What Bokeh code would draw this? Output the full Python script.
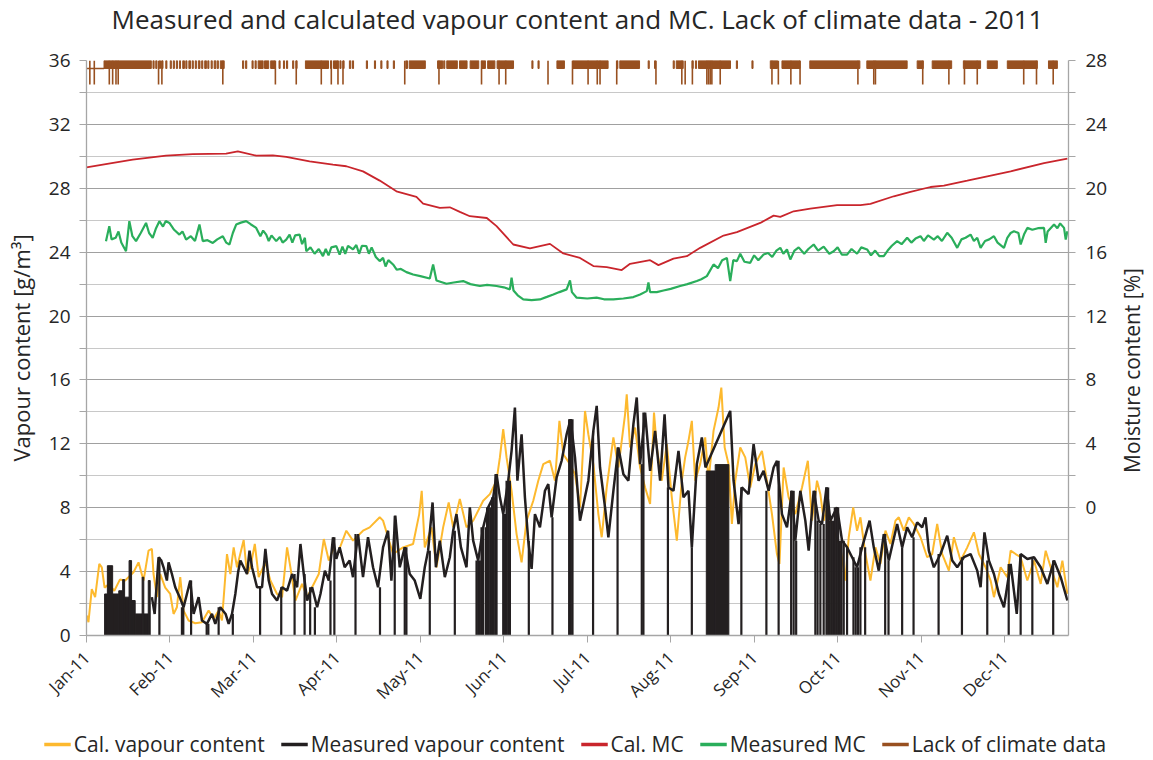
import numpy as np
from math import pi
from bokeh.plotting import figure
from bokeh.layouts import column, row
from bokeh.models import (Range1d, LinearAxis, FixedTicker, Legend, LegendItem, Label)
from bokeh.embed import file_html
from bokeh.resources import INLINE

# ---------------- data (x = days from 1 Jan 2011) ----------------
month_tick_days = [0, 30, 60, 90, 120, 150, 180, 210, 240, 270, 300, 330]
month_labels = ["Jan-11", "Feb-11", "Mar-11", "Apr-11", "May-11", "Jun-11",
                "Jul-11", "Aug-11", "Sep-11", "Oct-11", "Nov-11", "Dec-11"]

cal_vap_day = [0.1, 0.7, 1.9, 3.1, 4.6, 5.5, 6.5, 8, 10, 12, 13.9, 16.9, 18.7, 20.5, 22.3, 23.5, 24.1, 25.3, 26.5, 28.3,
               30.1, 31.3, 32.5, 33.7, 34.9, 36.7, 39.1, 41.5, 43.9, 45.7, 47.5, 48.7, 50.5, 51.7, 52.9, 54.1, 56.5, 57.7,
               58.9, 60.5, 61.9, 64.3, 66.1, 68.5, 70.3, 72.1, 73.3, 75.1, 77.5, 79.3, 81.1, 83.5, 85.3, 87.1, 88.9, 89.8,
               93.4, 95.8, 99.4, 101.8, 105.4, 106.6, 108.4, 110.2, 113.8, 117.4, 119.6, 120.5, 121.6, 124, 125.8, 128.2,
               130.2, 131.8, 134.2, 136.6, 139, 142.6, 145, 147.4, 148.6, 149.8, 151, 152.8, 154.6, 156.4, 158.2, 160.6,
               162.4, 164.2, 166.6, 168.4, 170, 171.4, 173.8, 175.6, 177.4, 179.2, 180.4, 182.2, 184, 185.2, 187, 189.4,
               191.2, 193.6, 194.2, 195.4, 197.2, 199, 200.8, 202.6, 204, 205, 206.8, 208.6, 210.4, 212.2, 214, 215.2,
               216.4, 217.6, 218.8, 220.6, 222.4, 223.6, 225.4, 227.2, 228.2, 229.4, 230.8, 232, 233.2, 235, 236.8, 238.6,
               240.4, 242.8, 244.6, 246.4, 248.2, 249.1, 250.6, 252.4, 254.8, 257.2, 259.3, 260.8, 262.6, 263.8, 265,
               266.2, 268.6, 271, 272.8, 274, 275.6, 277, 278.2, 280, 281.8, 283.6, 285.4, 287.2, 289, 290.8, 292, 293.8,
               295.6, 297.4, 299.8, 302.2, 304, 305.8, 307.6, 310, 311.8, 314.2, 316.6, 319, 320.8, 323.2, 325, 326.2,
               328.6, 331, 332.2, 334, 335.8, 338.2, 340.6, 343, 344.8, 346.6, 349, 350.8, 352.6]
cal_vap_val = [1.25, 0.83, 2.9, 2.4, 4.48, 4.27, 3.0, 3.2, 2.8, 3.5, 3.44, 3.96, 4.58, 3.44, 5.31, 5.42, 3.85, 2.4, 3.85, 3.0,
               2.6, 1.35, 1.77, 3.65, 1.56, 0.94, 0.77, 0.83, 1.56, 1.04, 1.56, 0.94, 5.1, 3.85, 5.52, 4.27, 5.98, 3.85,
               4.27, 5.73, 3.65, 4.58, 3.44, 2.6, 2.4, 5.52, 4.27, 2.19, 3.23, 2.4, 3.02, 3.85, 6.04, 4.69, 5.52, 4.9,
               6.56, 5.94, 6.56, 6.77, 7.4, 7.19, 6.15, 5.1, 5.52, 5.73, 7.6, 9.06, 5.52, 6.77, 4.27, 6.77,
               8.33, 6.77, 8.54, 6.77, 7.19, 8.44, 8.85, 9.69, 11.15, 12.92, 11.15, 9.06, 6.35, 4.58, 7.19, 8.44,
               9.69, 10.73, 10.94, 9.69, 13.44, 11.35, 10.73, 10.1, 8.02, 14.06, 12.6, 10.73, 7.6, 6.15, 9.27, 12.4,
               10.52, 13.85, 15.1, 11.77, 13.02, 10.52, 9.27, 8.23, 13.96, 11.77, 9.69, 11.98, 8.65, 5.94, 9.69, 11.15,
               12.19, 13.44, 9.69, 10.73, 12.4, 9.69, 12.81, 14.27, 15.52, 11.77, 10.73, 6.98, 9.69, 11.77, 11.15, 9.27,
               10.73, 11.56, 9.69, 7.6, 5.1, 4.48, 10.52, 8.65, 7.6, 9.27, 10.94, 7.19, 9.69, 8.85, 7.19,
               8.02, 6.56, 5.52, 3.44, 6.15, 8.02, 6.56, 7.4, 5.1, 3.44, 5.52, 4.48, 6.56, 5.73, 7.19, 7.4, 6.56,
               7.4, 6.98, 6.15, 4.9, 5.1, 6.98, 5.1, 4.06, 6.15, 4.69, 5.52, 6.46, 5.1, 4.27, 3.44, 2.4,
               4.27, 3.65, 5.31, 5.1, 4.9, 3.44, 4.69, 3.23, 5.31, 4.27, 3.02, 4.69, 2.6]

meas_vap_day = [23.5, 24.5, 25.9, 26.9, 27.7, 28.9, 29.5, 30.7, 31.9, 33.5, 34.9, 36.1, 37.3, 38.5, 40.3, 41.5, 43.3, 45.1,
                46.3, 48.1, 50, 51.1, 52.3, 53.5, 54.5, 55.3, 56.5, 57.7, 58.6, 59.5, 61.3, 63.1, 64.3, 65.5, 66.7, 68.5,
                70.3, 72.1, 73.9, 75.7, 76.9, 78.1, 79.3, 81.1, 82.9, 84.1, 85.7, 87.1, 88.6, 89.8, 91, 92.8, 94.6, 95.8,
                97.6, 99.4, 101.2, 103, 104.8, 106.6, 108.4, 109.6, 111, 112.6, 114.4, 116.2, 118, 120, 121.6, 122.8,
                124.4, 125.6, 127, 128.8, 130.6, 131.8, 133, 134.6, 136.6, 137.8, 139, 140.8, 142.6, 144.4, 146.2, 147.4,
                148.6, 149.8, 151.6, 152.8, 154, 154.9, 156.4, 157.6, 158.8, 160, 161.2, 163, 164.8, 166, 167.2, 169,
                170.8, 172.6, 174, 175.6, 177.4, 180.4, 182.2, 183.4, 184.6, 186.4, 187.6, 189.4, 191.2, 193, 194.8,
                196.6, 197.8, 199, 200.8, 202.6, 204.4, 206.2, 207.8, 209.2, 211, 212.8, 214.6, 216.4, 217.6, 219.4,
                221.2, 222.5, 231.4, 232.6, 234.4, 235.6, 238, 239.8, 241.6, 243.4, 245.2, 247, 248.2, 250, 251.8, 253.6,
                254.8, 256.6, 258.4, 259.6, 261.4, 263.2, 264.4, 266, 267.4, 269.8, 271.6, 273.4, 275.2, 277, 278.8,
                281.5, 283, 284.8, 286.6, 288.4, 291.4, 293.2, 295, 296.8, 298.6, 300.4, 301.6, 302.8, 304.6, 307, 309.4,
                311.2, 313, 315.4, 317.8, 320.2, 321.4, 322.8, 324.4, 326.2, 328, 329.8, 332.2, 334.4, 335.8, 338.2,
                340.6, 343, 345.4, 347.8, 350.2, 352.6]
meas_vap_val = [2.4, 1.35, 4.9, 4.69, 4.27, 3.44, 4.58, 3.85, 3.02, 2.4, 1.77, 2.6, 3.44, 1.35, 2.4, 0.94, 0.73, 1.35,
                0.73, 1.77, 1.35, 0.73, 1.35, 2.6, 3.96, 4.69, 4.27, 3.85, 5.31, 4.27, 3.02, 3.02, 5.42, 3.44, 2.6, 2.19,
                3.02, 2.81, 3.85, 3.02, 5.73, 3.85, 2.19, 3.02, 1.77, 2.6, 4.06, 3.44, 6.15, 4.8, 5.52, 4.27, 4.69, 3.65,
                6.35, 3.65, 6.15, 4.27, 3.02, 5.52, 6.56, 3.44, 7.5, 4.27, 5.52, 3.85, 3.44, 2.29, 4.27, 5.31,
                8.33, 4.27, 5.94, 3.65, 4.9, 6.56, 7.6, 5.52, 4.27, 8.02, 5.94, 4.69, 6.77, 8.02, 8.65, 10.1,
                8.65, 7.6, 9.69, 11.56, 14.27, 9.69, 12.6, 8.65, 5.94, 4.17, 7.6, 6.77, 9.06, 9.48, 7.4, 9.9,
                10.94, 12.6, 13.54, 11.15, 7.19, 9.69, 12.81, 14.38, 10.52, 8.02, 6.15, 9.06, 11.77, 10.1, 9.69,
                13.23, 14.9, 10.73, 13.96, 10.31, 12.81, 9.69, 13.85, 9.27, 9.06, 11.56, 8.65, 9.06, 5.52, 10.73,
                12.4, 10.52, 14.06, 9.69, 6.98, 9.27, 8.85, 11.98, 9.69, 10.31, 9.06, 10.52, 10.94, 7.6, 6.77, 9.06,
                5.94, 9.06, 7.19, 5.31, 9.06, 7.19, 6.98, 9.27, 7.19, 8.02, 5.94, 5.52, 4.9, 4.27, 5.52,
                7.19, 5.52, 4.06, 6.35, 4.69, 6.98, 5.52, 6.77, 6.15, 7.08, 6.77, 7.4, 5.31, 4.27, 5.1, 6.25,
                4.69, 4.27, 4.9, 5.1, 4.06, 3.02, 6.46, 4.69, 3.85, 2.6, 1.77, 4.48, 1.35, 5.1, 4.79,
                4.9, 4.27, 3.23, 4.69, 3.65, 2.19]

# days on which the measured series drops to zero
meas_zero_day = [26.2, 34.3, 34.8, 37.6, 43.2, 43.8, 47.5, 52.6, 62.4, 70, 74.8, 78.4, 80.4, 82.1, 87.7, 89.1, 96.7,
                 105.5, 110.8, 114.4, 115, 123.4, 132.4, 140.2, 140.8, 141.4, 142, 142.5, 143.5, 144, 144.6, 145.2,
                 145.8, 146.4, 147, 147.4, 149.8, 150.4, 151, 151.6, 152.2, 159, 167.5, 173.5, 174.1, 174.7, 182.1,
                 190.9, 199.6, 200.2, 209, 217.6, 235.4, 244.4, 248.8, 253.3, 254.2, 255.1, 262, 262.8, 263.8, 265,
                 266, 266.6, 267.2, 267.8, 268.4, 269, 269.6, 270.2, 270.8, 271.4, 272.2, 273.4, 275.7, 276.5, 277.3,
                 278.2, 279.9, 287.1, 288.3, 293.2, 297.3, 306.3, 314.7, 323.8, 331.5, 335.8, 340, 347.5]

# periods where the measured series oscillates densely between zero and these levels
meas_gap_start = [6.5, 7.5, 9.4, 11.6, 13.0, 13.7, 15.3, 16.2, 17.5, 20.0, 20.6, 22.2, 222.8, 226.0]
meas_gap_end = [7.5, 9.4, 11.6, 13.0, 13.7, 15.3, 16.2, 17.5, 20.0, 20.6, 22.2, 22.9, 226.0, 230.9]
meas_gap_top = [2.6, 4.37, 2.6, 2.8, 3.5, 2.4, 4.69, 2.19, 1.35, 3.65, 1.35, 3.44, 10.3, 10.7]

cal_mc_day = [0, 8, 16.6, 28.6, 38.2, 50.2, 54.4, 61, 67, 71.8, 80.2, 88.6, 93.4, 99.4, 105.4, 111.4, 118.6, 121, 127,
              130.6, 134.2, 137.8, 143.9, 147.4, 153.4, 159.4, 166.6, 171.4, 177.4, 182.2, 187, 192.4, 195.4, 202.6,
              205.6, 211, 215.8, 220.6, 229, 233.8, 242.2, 247, 249.4, 254.2, 260.2, 269.8, 278.2, 281.8, 290.2,
              296.2, 303.4, 308.2, 316.6, 323.8, 332.2, 344.2, 352.6]
cal_mc_val = [21.31, 21.55, 21.79, 22.04, 22.14, 22.17, 22.31, 22.04, 22.06, 21.96, 21.69, 21.48, 21.38, 21.06, 20.48,
              19.81, 19.46, 19.04, 18.77, 18.81, 18.52, 18.25, 18.14, 17.63, 16.48, 16.23, 16.52, 15.92, 15.64, 15.13,
              15.06, 14.88, 15.27, 15.5, 15.19, 15.6, 15.75, 16.27, 17.04, 17.25, 17.83, 18.29, 18.21, 18.56, 18.73,
              18.94, 18.94, 19.02, 19.5, 19.77, 20.08, 20.17, 20.48, 20.75, 21.06, 21.58, 21.86]

meas_mc_day = [7, 8.2, 9, 10.5, 11.5, 12.5, 14.2, 15.4, 16.5, 17.8, 19.5, 21.4, 22.5, 23.8, 25, 26.2, 27.5, 28.5, 29.8,
               31.5, 33.4, 34.5, 35.8, 37.5, 39, 40.6, 41.8, 43.5, 45.4, 47, 49, 50.2, 51.4, 52.6, 53.8, 55.5, 57.4, 59,
               61, 62.5, 63.5, 64.6, 65.5, 66.5, 68.2, 69.5, 70.5, 71.8, 73, 74, 75, 76.6, 77.5, 78.5, 79, 80.5, 82,
               83.5, 85, 86, 87, 88, 89.8, 91, 92, 93, 94, 95.8, 97, 98, 99, 100.6, 101.5, 102.5, 104, 105.4, 106.6,
               107.5, 108.5, 110.2, 111.5, 113, 115, 117.4, 120, 123.4, 124.6, 125.8, 129.4, 132, 135.4, 138, 141.4,
               144, 147.4, 150, 152.2, 152.8, 153.5, 155, 157, 160, 163, 165.5, 167.8, 170, 172.6, 173.8, 174.5,
               176.2, 180, 183.4, 186, 189.4, 193, 196.6, 199, 201.4, 202, 202.6, 205, 207.4, 210, 213.4, 216, 219.4,
               221, 223, 225.4, 227, 228.5, 230.2, 231.4, 232.5, 233.8, 235, 236.5, 238.6, 240, 241.5, 243.4, 245,
               246.5, 248, 249.4, 250.5, 251.8, 253, 254.5, 256, 258, 259.5, 261.4, 263, 265, 267, 268.6, 270, 271.5,
               273.4, 275, 277, 278.5, 280.6, 282, 283.5, 285, 286.6, 288, 289.5, 291.4, 293, 295, 296.5, 298, 299.8,
               301, 302.5, 304.6, 306, 307.5, 309.4, 311, 313, 314.5, 316, 317.8, 319, 320.2, 321.4, 323, 324.5,
               326.2, 327.5, 329.8, 331, 332.2, 333.4, 335, 335.8, 337, 338.2, 340, 342, 344.2, 344.8, 345.5, 347.8,
               349, 350, 351.4, 352, 352.6]
meas_mc_val = [16.69, 17.63, 16.8, 16.9, 17.3, 16.6, 16.06, 17.94, 17.0, 16.69, 17.2, 17.83, 17.2, 16.9, 17.5, 17.94,
               17.6, 17.95, 17.83, 17.4, 17.1, 17.3, 16.79, 17.0, 16.7, 17.73, 16.69, 16.75, 16.58, 16.8, 17.0, 16.6,
               16.48, 17.2, 17.73, 17.85, 17.94, 17.75, 17.52, 17.0, 17.35, 17.1, 16.7, 17.05, 16.69, 16.95, 16.6,
               16.79, 17.1, 16.6, 17.05, 17.1, 16.5, 16.9, 16.06, 16.3, 15.9, 16.2, 15.75, 16.2, 15.8, 16.3, 16.38,
               15.85, 16.35, 15.9, 16.4, 16.17, 16.45, 15.9, 16.4, 16.38, 15.9, 16.3, 15.7, 15.44, 15.64, 15.1, 15.5,
               15.23, 14.9, 14.95, 14.75, 14.6, 14.5, 14.35, 15.23, 14.23, 14.02, 14.1, 14.19, 14.0, 13.88, 13.95,
               13.88, 13.8, 13.67, 14.4, 13.6, 13.3, 13.04, 13.0, 13.04, 13.2, 13.35, 13.5, 13.67, 14.23, 13.5, 13.15,
               13.1, 13.15, 13.05, 13.04, 13.1, 13.19, 13.35, 13.56, 14.1, 13.5, 13.5, 13.6, 13.7, 13.88, 14.0, 14.19,
               14.3, 14.5, 15.23, 15.0, 15.5, 15.64, 14.19, 15.5, 15.44, 15.9, 15.4, 15.33, 15.8, 15.5, 15.85, 15.95,
               15.7, 16.1, 16.27, 15.9, 16.17, 15.54, 16.1, 16.3, 15.9, 16.2, 16.48, 16.1, 16.35, 15.9, 16.06, 16.3,
               15.85, 15.85, 16.2, 15.9, 16.3, 16.17, 15.8, 16.1, 15.75, 15.75, 16.1, 16.4, 16.69, 16.5, 16.9, 16.6,
               16.85, 17.0, 16.7, 17.05, 16.79, 17.0, 16.7, 17.21, 16.9, 16.27, 16.8, 16.9, 17.1, 16.7, 16.9, 16.27,
               16.7, 16.8, 17.0, 16.6, 16.27, 16.9, 17.2, 17.31, 17.2, 16.48, 17.1, 17.52, 17.4, 17.5, 17.52, 16.58,
               17.3, 17.73, 17.5, 17.8, 17.52, 16.79, 17.31]

# lack of climate data: short marks (periods) and long marks (single days)
lack_short_start = [6.3, 23.9, 24.9, 26.2, 27.1, 28.5, 30.1, 31.2, 32.3, 33.4, 34.6, 35.7, 36.8, 38, 39.1, 40.2, 41.4,
                    42.5, 43.6, 44.8, 45.9, 47, 48.1, 56.1, 57.2, 59.5, 60.6, 61.7, 64, 66.2, 69.2, 70.8, 71.9, 74.1,
                    75.3, 78.7, 87.7, 88.8, 91.1, 92.2, 94.5, 95.6, 100.6, 103.5, 105.8, 108, 110.3, 114.8, 116,
                    126.2, 128.4, 129.5, 134.1, 137.9, 142, 144.2, 147.6, 160.1, 162.3, 169.1, 174.8, 190.6, 191.7,
                    201.9, 204.2, 210.9, 212, 217.7, 218.9, 220, 233.6, 239.2, 245.8, 250, 260, 280.5, 298.6, 304,
                    315.2, 323.8, 331, 345.8]
lack_short_end = [23.3, 24.3, 25.3, 26.6, 27.5, 28.9, 30.5, 31.6, 32.7, 33.8, 35.2, 36.1, 37.4, 38.4, 39.5, 40.8, 41.8,
                  43.1, 44, 45.2, 46.5, 47.4, 49.5, 56.5, 57.6, 59.9, 61, 63.5, 65.5, 67.8, 69.6, 71.2, 72.3, 74.5,
                  75.7, 87, 88.1, 90.5, 91.5, 92.6, 95, 96, 101, 103.9, 106.2, 108.4, 110.7, 115.4, 121.8,
                  128, 128.8, 133.3, 136.8, 141, 143.4, 146.8, 153.5, 160.5, 162.7, 171.8, 187.5, 191, 198.8,
                  202.3, 204.6, 211.3, 214.5, 218.1, 219.3, 231.5, 234, 239.6, 248.4, 256.5, 278, 295, 300.8, 311,
                  321.4, 327.4, 341.8, 349]
lack_long_day = [1.2, 2.8, 8.2, 9.4, 10.6, 11.4, 25.9, 27.1, 49, 67.9, 75.4, 84.4, 88, 90.4, 92.2, 114.4, 126.7, 142,
                 148.3, 150.7, 165.9, 174.7, 180.3, 183.6, 184.6, 190.6, 204.7, 214, 215.2, 217.8, 223, 223.6, 224.2,
                 224.8, 227.8, 246.4, 248.7, 253.2, 256.5, 277.3, 283, 283.6, 300.6, 310, 315.6, 320.2, 336.9, 341.5,
                 347.5]
lack_line_day = [0, 6.3]
lack_line_val = [35.5, 35.5]
lack_short_level = 35.5
lack_long_level = 34.5
lack_top = 36

title_text = "Measured and calculated vapour content and MC. Lack of climate data - 2011"
left_title = "Vapour content [g/m³]"
right_title = "Moisture content [%]"
series_names = ["Cal. vapour content", "Measured vapour content", "Cal. MC", "Measured MC", "Lack of climate data"]

# ---------------- styling ----------------
FONT = "Open Sans"
TXT = "#262626"
AX = "#a6a6a6"
C_CAL = "#FDB92E"
C_MEAS = "#231F20"
C_CMC = "#C9252C"
C_MMC = "#2AAE5B"
C_LACK = "#985020"
series_colors = [C_CAL, C_MEAS, C_CMC, C_MMC, C_LACK]

TOTAL_W = 1150
TITLE_H = 36
MAIN_W, MAIN_H = 1112, 693
SIDE_W = TOTAL_W - MAIN_W
LEG_H = 29
FRAME_L, FRAME_R, FRAME_T, FRAME_B = 86, 1068, 24, 599   # frame edges inside the main figure


def blank(width, height):
    f = figure(width=width, height=height, output_backend="svg", toolbar_location=None,
               x_axis_type=None, y_axis_type=None, x_range=Range1d(0, 1), y_range=Range1d(0, 1),
               min_border=0, min_border_left=0, min_border_right=0, min_border_top=0, min_border_bottom=0)
    f.outline_line_color = None
    f.xgrid.visible = False
    f.ygrid.visible = False
    return f


# ---- title strip ----
pt = blank(TOTAL_W, TITLE_H)
pt.add_layout(Label(x=(FRAME_L + FRAME_R) / 2, y=TITLE_H / 2, x_units="screen", y_units="screen",
                    text=title_text, text_font=FONT, text_font_size="26px", text_color=TXT,
                    text_align="center", text_baseline="middle"))

# ---- main chart ----
p = figure(width=MAIN_W, height=MAIN_H, output_backend="svg", toolbar_location=None,
           x_range=Range1d(0, 353), y_range=Range1d(0, 36),
           min_border_left=FRAME_L, min_border_right=MAIN_W - FRAME_R,
           min_border_top=FRAME_T, min_border_bottom=MAIN_H - FRAME_B)
p.extra_y_ranges = {"mc": Range1d(-8, 28)}
p.outline_line_color = None

p.xgrid.grid_line_color = None
p.ygrid.ticker = FixedTicker(ticks=list(range(0, 37, 4)), minor_ticks=list(range(2, 36, 4)))
p.ygrid.grid_line_color = "#a0a0a0"
p.ygrid.grid_line_width = 1.2
p.ygrid.minor_grid_line_color = "#c8c8c8"
p.ygrid.minor_grid_line_width = 1.2

yl = p.yaxis[0]
yl.ticker = FixedTicker(ticks=list(range(0, 37, 4)), minor_ticks=list(range(2, 36, 4)))
yl.axis_label = left_title

yr = LinearAxis(y_range_name="mc",
                ticker=FixedTicker(ticks=list(range(0, 29, 4)), minor_ticks=list(range(2, 28, 4))))
p.add_layout(yr, "right")

xa = p.xaxis[0]
xa.ticker = FixedTicker(ticks=month_tick_days)
xa.major_label_overrides = {d: l for d, l in zip(month_tick_days, month_labels)}
xa.major_label_orientation = pi / 4

for ax in [yl, yr, xa]:
    ax.axis_line_color = AX
    ax.axis_line_width = 1.3
    ax.major_tick_line_color = AX
    ax.minor_tick_line_color = AX if ax is not xa else None
    ax.major_tick_in = 0
    ax.major_tick_out = 7
    ax.minor_tick_in = 0
    ax.minor_tick_out = 7
    ax.major_label_text_font = FONT
    ax.major_label_text_font_size = "19px" if ax is not xa else "17px"
    ax.major_label_text_color = TXT
    ax.axis_label_text_font = FONT
    ax.axis_label_text_font_size = "22px"
    ax.axis_label_text_font_style = "normal"
    ax.axis_label_text_color = TXT
    ax.major_label_standoff = 9
    ax.axis_label_standoff = 10
xa.major_label_standoff = 12
yr.major_label_standoff = 10

p.line(cal_vap_day, cal_vap_val, line_color=C_CAL, line_width=2)
p.line(meas_vap_day, meas_vap_val, line_color=C_MEAS, line_width=2.5)
mdays = np.array(meas_vap_day)
mvals = np.array(meas_vap_val)
drop_top = [float(mvals[np.argmin(np.abs(mdays - d))]) for d in meas_zero_day]
p.segment(x0=meas_zero_day, y0=[0] * len(meas_zero_day), x1=meas_zero_day, y1=drop_top,
          line_color=C_MEAS, line_width=2.2)
p.quad(left=meas_gap_start, right=meas_gap_end, bottom=0, top=meas_gap_top,
       fill_color=C_MEAS, line_color=C_MEAS, line_width=1)
p.line(cal_mc_day, cal_mc_val, y_range_name="mc", line_color=C_CMC, line_width=1.8)
p.line(meas_mc_day, meas_mc_val, y_range_name="mc", line_color=C_MMC, line_width=2.2)
p.line(lack_line_day, lack_line_val, line_color=C_LACK, line_width=1.5)
p.quad(left=lack_short_start, right=lack_short_end, bottom=lack_short_level, top=lack_top,
       fill_color=C_LACK, line_color=C_LACK, line_width=1)
p.segment(x0=lack_long_day, y0=[lack_long_level] * len(lack_long_day),
          x1=lack_long_day, y1=[lack_top] * len(lack_long_day), line_color=C_LACK, line_width=1.6)

# ---- right-hand axis title (reads bottom to top); the side strip's frame is aligned with the chart frame ----
ps = blank(SIDE_W, MAIN_H)
ps.add_layout(Label(x=19, y=265, x_units="screen", y_units="screen",
                    angle=pi / 2, text=right_title, text_font=FONT, text_font_size="21px",
                    text_color=TXT, text_align="center", text_baseline="middle"))

# ---- legend strip (legend keys drawn from style-only proxies) ----
pl = blank(TOTAL_W, LEG_H)
items = []
for name, col in zip(series_names, series_colors):
    r = pl.line([float("nan")], [float("nan")], line_color=col, line_width=3.5)
    items.append(LegendItem(label=name, renderers=[r]))
legend = Legend(items=items, orientation="horizontal", location="center")
legend.label_text_font = FONT
legend.label_text_font_size = "21px"
legend.label_text_color = TXT
legend.glyph_width = 27
legend.glyph_height = 20
legend.label_standoff = 3
legend.spacing = 16
legend.padding = 0
legend.margin = 0
legend.border_line_color = None
legend.background_fill_alpha = 0
pl.add_layout(legend, "center")

layout = column(pt, row(p, ps), pl)
open("out.html", "w").write(file_html(layout, INLINE))
